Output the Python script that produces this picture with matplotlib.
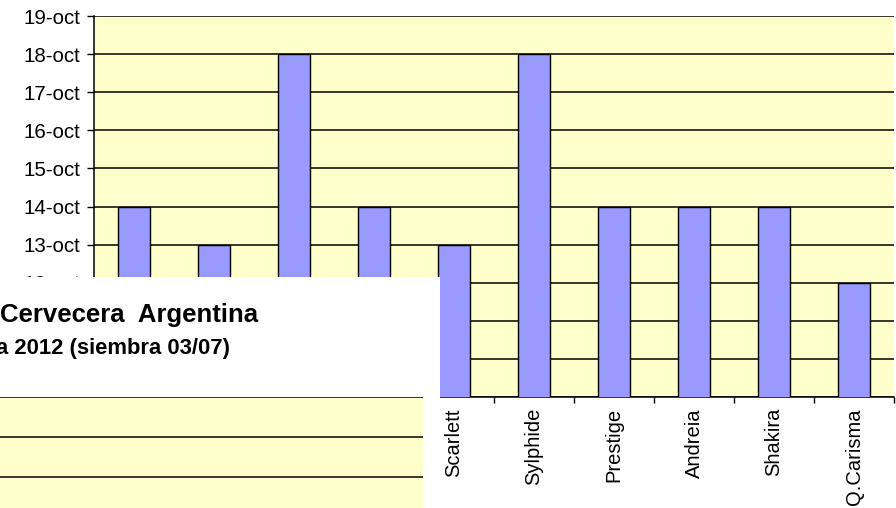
import numpy as np
import matplotlib
matplotlib.use("Agg")
import matplotlib.pyplot as plt
from matplotlib.ticker import FuncFormatter, FixedLocator

# fecha de espigazon (dia de octubre) por variedad
variedades = ["Ayelen", "Carla", "Danielle", "Josefina", "Scarlett",
              "Sylphide", "Prestige", "Andreia", "Shakira", "Q.Carisma"]
dia_oct = [14, 13, 18, 14, 13, 18, 14, 14, 14, 12]
dias_eje = list(range(9, 20))

titulo = "Cervecera  Argentina"
subtitulo = "a 2012 (siembra 03/07)"

AMARILLO = "#FFFFCC"
LILA = "#9999FF"
W, H = 896, 508

plt.rcParams['font.family'] = ['Liberation Sans', 'DejaVu Sans']

fig = plt.figure(figsize=(W / 100, H / 100), dpi=100)
fig.patch.set_facecolor("white")

# grafico principal
ax = fig.add_axes([94 / W, (H - 397) / H, 800 / W, 381 / H])
ax.set_facecolor(AMARILLO)
x = np.arange(len(variedades))
ax.bar(x, dia_oct, width=0.4, color=LILA, edgecolor="black", linewidth=1, zorder=3)
ax.set_xlim(-0.5, len(variedades) - 0.5)
ax.set_ylim(dias_eje[0], dias_eje[-1])
ax.set_yticks(dias_eje)
ax.yaxis.set_major_formatter(FuncFormatter(lambda v, p: f"{int(v)}-oct"))
ax.grid(axis="y", color="black", linewidth=1.1, zorder=1)
ax.set_xticks(x)
ax.set_xticklabels(variedades, rotation=90, fontsize=14.5)
ax.xaxis.set_minor_locator(FixedLocator(np.arange(-0.5, len(variedades), 1.0)))
ax.tick_params(axis="x", which="major", length=0, pad=8)
ax.tick_params(axis="x", which="minor", length=4, width=1, direction="out")
ax.tick_params(axis="y", length=5, width=1, direction="out", pad=5, labelsize=14.8)
for s in ["top", "right"]:
    ax.spines[s].set_visible(False)
for s in ["left", "bottom"]:
    ax.spines[s].set_linewidth(1.1)

# recuadro blanco del grafico superpuesto
box = fig.add_axes([0, 0, 440 / W, (H - 277) / H])
box.set_facecolor("white")
box.set_xticks([])
box.set_yticks([])
for s in box.spines.values():
    s.set_visible(False)

# area de trazado del grafico superpuesto (sale del borde)
ax2 = fig.add_axes([-100 / W, -49 / H, 523 / W, 160 / H])
ax2.set_facecolor(AMARILLO)
ax2.set_ylim(0, 4)
ax2.set_yticks([0, 1, 2, 3, 4])
ax2.grid(axis="y", color="black", linewidth=1.1)
ax2.set_xticks([])
ax2.tick_params(axis="y", length=0, labelleft=False)
for s in ax2.spines.values():
    s.set_visible(False)

fig.text(258 / W, (H - 322) / H, titulo, ha="right", va="baseline",
         fontsize=18.5, fontweight="bold")
fig.text(230 / W, (H - 354) / H, subtitulo, ha="right", va="baseline",
         fontsize=15.8, fontweight="bold")

fig.savefig("out.png", dpi=100)
